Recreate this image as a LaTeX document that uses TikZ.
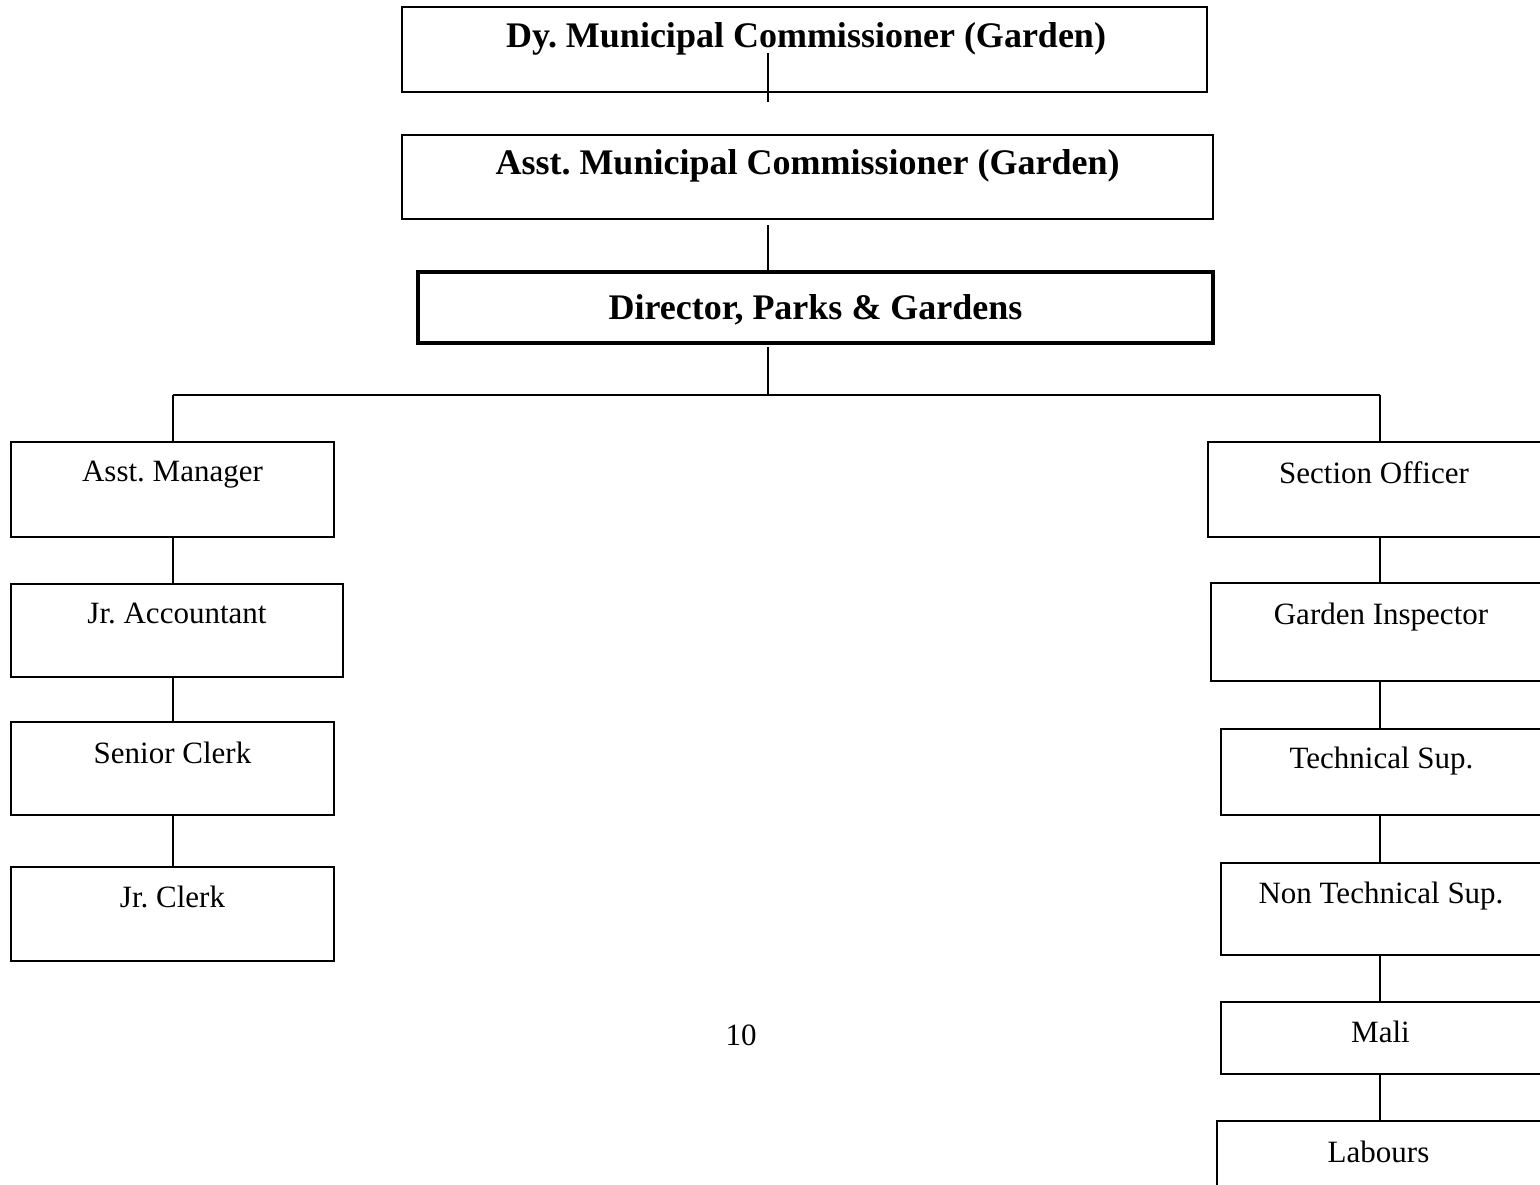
\documentclass[tikz,border=0pt]{standalone}
\usepackage{fontspec}
\setmainfont{Liberation Serif}
\usetikzlibrary{fit}
\frenchspacing
\begin{document}
\begin{tikzpicture}[x=0.5pt,y=-0.5pt,
  box/.style={draw=black, line width=1pt, inner sep=0pt, rectangle},
  bigbox/.style={draw=black, line width=2.3pt, inner sep=0pt, rectangle},
  conn/.style={draw=black, line width=0.9pt},
  lbl/.style={inner sep=0pt, anchor=base, font=\fontsize{15.5}{18}\selectfont\frenchspacing},
  blbl/.style={inner sep=0pt, anchor=base, font=\fontsize{18}{21}\selectfont\bfseries\frenchspacing}]
\useasboundingbox (0,0) rectangle (1540,1184);
% top boxes
\node[box, fit={(402,7)(1207,92)}] (dy) {};
\node[blbl] (tdy) at (806,47) {Dy. Municipal Commissioner (Garden)};
\node[box, fit={(402,135)(1213,219)}] (amc) {};
\node[blbl] (tamc) at (807.5,174) {Asst. Municipal Commissioner (Garden)};
\node[bigbox, fit={(418,272)(1213,343)}] (dir) {};
\node[blbl] (tdir) at (815.5,319) {Director, Parks \& Gardens};
% left column
\node[box, fit={(11,442)(334,537)}] (am) {};
\node[lbl] (tam) at (172.5,481) {Asst. Manager};
\node[box, fit={(11,584)(343,677)}] (ja) {};
\node[lbl] (tja) at (177,623) {Jr. Accountant};
\node[box, fit={(11,722)(334,815)}] (sc) {};
\node[lbl] (tsc) at (172.5,763) {Senior Clerk};
\node[box, fit={(11,867)(334,961)}] (jc) {};
\node[lbl] (tjc) at (172.5,907) {Jr. Clerk};
% right column
\node[box, fit={(1208,442)(1543,537)}] (so) {};
\node[lbl] (tso) at (1374,483) {Section Officer};
\node[box, fit={(1211,583)(1543,681)}] (gi) {};
\node[lbl] (tgi) at (1381,624) {Garden Inspector};
\node[box, fit={(1221,729)(1543,815)}] (ts) {};
\node[lbl] (tts) at (1381.5,768) {Technical Sup.};
\node[box, fit={(1221,863)(1543,955)}] (nts) {};
\node[lbl] (tnts) at (1381,903) {Non Technical Sup.};
\node[box, fit={(1221,1002)(1543,1074)}] (mali) {};
\node[lbl] (tmali) at (1380.5,1042) {Mali};
\node[box, fit={(1217,1121)(1543,1190)}] (lab) {};
\node[lbl] (tlab) at (1378.5,1162) {Labours};
% page number
\node[lbl] (pg) at (741,1045) {10};
% connectors
\coordinate (c1a) at (768,53);
\coordinate (c1b) at (768,102);
\coordinate (c2) at (768,225);
\coordinate (c3) at (768,347);
\coordinate (M) at (768,395);
\coordinate (L) at (173,395);
\coordinate (R) at (1380,395);
\draw[conn] (c1a) -- (c1b);
\draw[conn] (c2) -- (c2 |- dir.north);
\draw[conn] (c3) -- (M);
\draw[conn] (L) -- (R);
\draw[conn] (L) -- (L |- am.north);
\draw[conn] (L |- am.south) -- (L |- ja.north);
\draw[conn] (L |- ja.south) -- (L |- sc.north);
\draw[conn] (L |- sc.south) -- (L |- jc.north);
\draw[conn] (R) -- (R |- so.north);
\draw[conn] (R |- so.south) -- (R |- gi.north);
\draw[conn] (R |- gi.south) -- (R |- ts.north);
\draw[conn] (R |- ts.south) -- (R |- nts.north);
\draw[conn] (R |- nts.south) -- (R |- mali.north);
\draw[conn] (R |- mali.south) -- (R |- lab.north);
\end{tikzpicture}
\end{document}
